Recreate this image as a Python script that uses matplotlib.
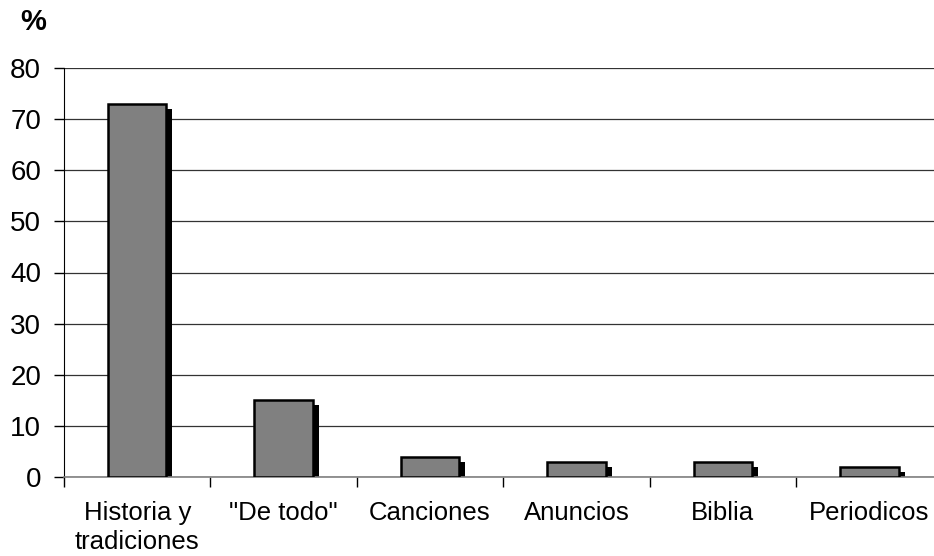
import numpy as np
import matplotlib
matplotlib.use('Agg')
from matplotlib import pyplot as plt
from matplotlib import transforms

plt.rcParams['font.family'] = ['Liberation Sans', 'DejaVu Sans']

# reading preferences (percent of respondents)
categories = ["Historia y\ntradiciones", "\"De todo\"", "Canciones", "Anuncios", "Biblia", "Periodicos"]
percent = [73, 15, 4, 3, 3, 2]
yticks = [0, 10, 20, 30, 40, 50, 60, 70, 80]

fig = plt.figure(figsize=(9.34, 5.56), dpi=100)
ax = fig.add_axes([64 / 934, 79 / 556, (942.5 - 64) / 934, (477 - 68) / 556])

x = np.arange(len(categories))

# drop shadow behind each bar, shifted right and down a few pixels
shadow = transforms.ScaledTranslation(6 / 100, -5 / 100, fig.dpi_scale_trans)
ax.bar(x, percent, width=0.40, color='black', zorder=2,
       transform=ax.transData + shadow)
ax.bar(x, percent, width=0.40, color='#808080', edgecolor='black',
       linewidth=1.8, zorder=3)

ax.set_xlim(-0.5, len(categories) - 0.5)
ax.set_ylim(0, 80)
ax.set_yticks(yticks)
ax.yaxis.grid(True, color='#333333', linewidth=0.9)
ax.set_axisbelow(True)

# ticks sit on the category boundaries, labels centred under the bars
ax.set_xticks(np.arange(len(categories) + 1) - 0.5)
ax.set_xticklabels([])
ax.set_xticks(x, minor=True)
ax.set_xticklabels(categories, minor=True, fontsize=18.5, linespacing=1.25)
ax.tick_params(axis='x', which='minor', length=0, pad=17.5)
ax.tick_params(axis='x', which='major', length=7, width=1, color='black')
ax.tick_params(axis='y', length=7, width=1, labelsize=20, pad=9.5)

for side in ['top', 'right']:
    ax.spines[side].set_visible(False)
ax.spines['left'].set_color('black')
ax.spines['bottom'].set_color('#808080')
ax.spines['bottom'].set_linewidth(1.2)

fig.text(33 / 934, 1 - 22 / 556, '%', fontsize=21, fontweight='bold',
         ha='center', va='center')

fig.savefig('out.png', dpi=100)
